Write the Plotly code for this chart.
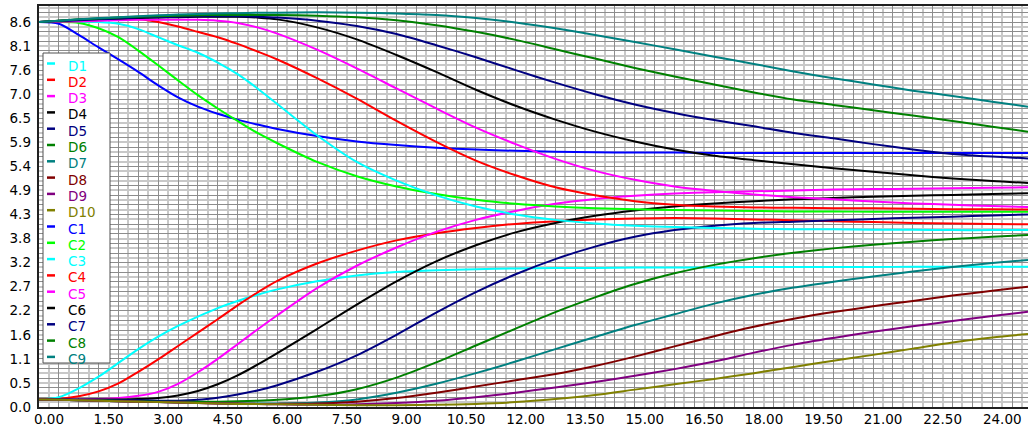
import plotly.graph_objects as go

# ---------------- data ----------------
T = [0, 0.5, 1, 1.5, 2, 2.5, 3, 3.5, 4, 4.5, 5, 5.5, 6, 7, 8, 9, 10, 11, 12, 13, 14,
     15, 16, 17, 18, 19, 20, 21, 22, 23, 24, 24.9]

D1 = [0.17, 0.22, 0.42, 0.68, 0.99, 1.30, 1.58, 1.82, 2.03, 2.22, 2.38, 2.52, 2.64, 2.82, 2.95, 3.03,
      3.07, 3.09, 3.11, 3.12, 3.12, 3.13, 3.13, 3.13, 3.14, 3.14, 3.14, 3.14, 3.15, 3.15, 3.15, 3.15]
D2 = [0.17, 0.18, 0.24, 0.35, 0.53, 0.79, 1.07, 1.37, 1.67, 1.97, 2.28, 2.57, 2.83, 3.22, 3.51, 3.74,
      3.90, 4.02, 4.11, 4.17, 4.21, 4.23, 4.24, 4.23, 4.21, 4.19, 4.17, 4.15, 4.13, 4.12, 4.11, 4.10]
D3 = [0.17, 0.17, 0.17, 0.18, 0.20, 0.25, 0.34, 0.52, 0.78, 1.08, 1.41, 1.74, 2.06, 2.67, 3.17, 3.58,
      3.93, 4.20, 4.40, 4.56, 4.67, 4.74, 4.79, 4.82, 4.84, 4.86, 4.88, 4.89, 4.90, 4.91, 4.92, 4.93]
D4 = [0.17, 0.17, 0.17, 0.17, 0.17, 0.18, 0.20, 0.26, 0.36, 0.51, 0.71, 0.95, 1.21, 1.75, 2.30, 2.82,
      3.27, 3.63, 3.92, 4.13, 4.29, 4.41, 4.50, 4.57, 4.62, 4.66, 4.69, 4.72, 4.74, 4.76, 4.78, 4.80]
D5 = [0.17, 0.17, 0.16, 0.16, 0.15, 0.15, 0.14, 0.14, 0.16, 0.21, 0.28, 0.37, 0.49, 0.79, 1.16, 1.62,
      2.12, 2.58, 2.98, 3.32, 3.60, 3.82, 3.97, 4.07, 4.13, 4.16, 4.19, 4.22, 4.25, 4.27, 4.30, 4.32]
D6 = [0.17, 0.16, 0.15, 0.15, 0.14, 0.13, 0.12, 0.12, 0.12, 0.12, 0.13, 0.14, 0.16, 0.24, 0.40, 0.66,
      1.00, 1.38, 1.76, 2.13, 2.46, 2.76, 3.00, 3.19, 3.34, 3.46, 3.56, 3.64, 3.71, 3.77, 3.82, 3.86]
D7 = [0.17, 0.16, 0.15, 0.14, 0.13, 0.12, 0.11, 0.10, 0.09, 0.09, 0.08, 0.08, 0.08, 0.10, 0.17, 0.32,
      0.52, 0.76, 1.02, 1.30, 1.57, 1.84, 2.08, 2.32, 2.52, 2.68, 2.81, 2.93, 3.04, 3.14, 3.23, 3.30]
D8 = [0.17, 0.16, 0.15, 0.14, 0.13, 0.12, 0.11, 0.10, 0.09, 0.08, 0.08, 0.07, 0.07, 0.08, 0.12, 0.20,
      0.32, 0.46, 0.60, 0.74, 0.92, 1.13, 1.36, 1.59, 1.80, 1.98, 2.13, 2.26, 2.38, 2.50, 2.61, 2.70]
D9 = [0.17, 0.16, 0.15, 0.14, 0.13, 0.12, 0.11, 0.10, 0.09, 0.08, 0.07, 0.07, 0.06, 0.05, 0.06, 0.09,
      0.14, 0.22, 0.32, 0.44, 0.56, 0.70, 0.85, 1.02, 1.22, 1.40, 1.55, 1.69, 1.81, 1.93, 2.04, 2.14]
D10 = [0.17, 0.16, 0.15, 0.14, 0.13, 0.12, 0.11, 0.10, 0.09, 0.08, 0.07, 0.07, 0.06, 0.05, 0.04, 0.04,
       0.05, 0.07, 0.11, 0.18, 0.27, 0.39, 0.51, 0.63, 0.76, 0.90, 1.04, 1.17, 1.31, 1.45, 1.56, 1.64]

C1 = [8.64, 8.60, 8.35, 8.07, 7.80, 7.52, 7.22, 6.95, 6.74, 6.58, 6.45, 6.34, 6.24, 6.08, 5.96, 5.88,
      5.82, 5.78, 5.75, 5.73, 5.72, 5.71, 5.71, 5.70, 5.70, 5.70, 5.70, 5.70, 5.70, 5.70, 5.70, 5.70]
C2 = [8.64, 8.64, 8.62, 8.50, 8.30, 8.00, 7.67, 7.33, 7.00, 6.70, 6.42, 6.15, 5.92, 5.50, 5.18, 4.95,
      4.78, 4.65, 4.56, 4.50, 4.46, 4.44, 4.42, 4.41, 4.40, 4.39, 4.39, 4.38, 4.38, 4.38, 4.38, 4.38]
C3 = [8.64, 8.65, 8.65, 8.64, 8.60, 8.48, 8.30, 8.12, 7.95, 7.73, 7.47, 7.15, 6.80, 6.10, 5.50, 5.08,
      4.75, 4.50, 4.32, 4.20, 4.12, 4.07, 4.04, 4.02, 4.00, 3.99, 3.99, 3.98, 3.98, 3.97, 3.97, 3.97]
C4 = [8.64, 8.65, 8.66, 8.68, 8.70, 8.70, 8.64, 8.54, 8.42, 8.30, 8.15, 7.98, 7.80, 7.38, 6.92, 6.42,
      5.95, 5.53, 5.20, 4.93, 4.75, 4.62, 4.54, 4.50, 4.48, 4.47, 4.46, 4.46, 4.45, 4.44, 4.44, 4.43]
C5 = [8.64, 8.65, 8.66, 8.67, 8.68, 8.69, 8.69, 8.69, 8.69, 8.67, 8.62, 8.52, 8.38, 8.02, 7.60, 7.15,
      6.70, 6.27, 5.90, 5.57, 5.30, 5.10, 4.95, 4.85, 4.77, 4.71, 4.66, 4.61, 4.57, 4.54, 4.51, 4.49]
C6 = [8.64, 8.67, 8.69, 8.71, 8.72, 8.73, 8.74, 8.75, 8.76, 8.76, 8.76, 8.74, 8.70, 8.52, 8.25, 7.90,
      7.52, 7.12, 6.76, 6.45, 6.18, 5.96, 5.78, 5.64, 5.54, 5.45, 5.36, 5.28, 5.20, 5.13, 5.07, 5.03]
C7 = [8.64, 8.66, 8.68, 8.70, 8.72, 8.74, 8.75, 8.76, 8.77, 8.77, 8.77, 8.76, 8.74, 8.67, 8.55, 8.37,
      8.12, 7.85, 7.56, 7.28, 7.02, 6.79, 6.60, 6.44, 6.30, 6.15, 6.03, 5.90, 5.78, 5.68, 5.62, 5.58]
C8 = [8.64, 8.67, 8.70, 8.72, 8.74, 8.76, 8.77, 8.78, 8.79, 8.80, 8.80, 8.80, 8.80, 8.78, 8.75, 8.68,
      8.57, 8.42, 8.24, 8.03, 7.82, 7.61, 7.42, 7.24, 7.06, 6.90, 6.78, 6.66, 6.54, 6.42, 6.29, 6.18]
C9 = [8.64, 8.67, 8.70, 8.73, 8.75, 8.77, 8.79, 8.81, 8.82, 8.83, 8.84, 8.85, 8.85, 8.86, 8.85, 8.83,
      8.80, 8.73, 8.63, 8.50, 8.35, 8.19, 8.03, 7.86, 7.70, 7.53, 7.38, 7.24, 7.10, 6.98, 6.85, 6.74]

SERIES_NAMES = ["D1", "D2", "D3", "D4", "D5", "D6", "D7", "D8", "D9", "D10",
                "C1", "C2", "C3", "C4", "C5", "C6", "C7", "C8", "C9"]
SERIES_VALUES = [D1, D2, D3, D4, D5, D6, D7, D8, D9, D10,
                 C1, C2, C3, C4, C5, C6, C7, C8, C9]
SERIES_COLORS = ["#00FFFF", "#FF0000", "#FF00FF", "#000000", "#000080", "#008000", "#008080",
                 "#800000", "#800080", "#808000",
                 "#0000FF", "#00FF00", "#00FFFF", "#FF0000", "#FF00FF", "#000000", "#000080",
                 "#008000", "#008080"]

X_TICK_LABELS = ["0.00", "1.50", "3.00", "4.50", "6.00", "7.50", "9.00", "10.50", "12.00",
                 "13.50", "15.00", "16.50", "18.00", "19.50", "21.00", "22.50", "24.00"]
X_TICK_STEP = 1.5
Y_TICK_LABELS = ["0.0", "0.5", "1.1", "1.6", "2.2", "2.7", "3.2", "3.8", "4.3", "4.9", "5.4",
                 "5.9", "6.5", "7.0", "7.6", "8.1", "8.6"]
Y_TICK_STEP = 0.54

# ---------------- layout geometry ----------------
W, H = 1028, 428
ML, MR, MT, MB = 39, 0, 6, 21
PW, PH = W - ML - MR, H - MT - MB
X_RANGE = [0, 24.9]
Y_RANGE = [0, 9.0]
FONT = "DejaVu Sans, Verdana, sans-serif"
TICK_SIZE = 13.5


def px_to_paper_x(px):
    return (px - ML) / PW


def px_to_paper_y(py):
    return (H - MB - py) / PH


fig = go.Figure()

for name, vals, col in zip(SERIES_NAMES, SERIES_VALUES, SERIES_COLORS):
    fig.add_trace(go.Scatter(
        x=T, y=vals, name=name, mode="lines",
        line=dict(color=col, width=2, shape="spline", smoothing=0.8),
        showlegend=False, hoverinfo="skip"))

# dummy trace for the labelled overlay axes
fig.add_trace(go.Scatter(x=[], y=[], xaxis="x2", yaxis="y2", showlegend=False,
                         hoverinfo="skip"))

DARK = "#8c8c8c"
LIGHT = "#c8c8c8"

fig.update_layout(
    width=W, height=H,
    margin=dict(l=ML, r=MR, t=MT, b=MB, pad=0),
    paper_bgcolor="white", plot_bgcolor="white",
    font=dict(family=FONT, size=TICK_SIZE, color="black"),
    xaxis=dict(range=X_RANGE, showticklabels=False, ticks="",
               tick0=0, dtick=0.5, showgrid=True, gridcolor=DARK, gridwidth=1,
               minor=dict(dtick=0.25, tick0=0, showgrid=True, gridcolor=LIGHT, gridwidth=1.5),
               zeroline=False, showline=True, linecolor="#202020", linewidth=2, mirror=True),
    yaxis=dict(range=Y_RANGE, showticklabels=False, ticks="",
               tick0=0, dtick=0.216, showgrid=True, gridcolor=DARK, gridwidth=1,
               minor=dict(dtick=0.108, tick0=0, showgrid=True, gridcolor=LIGHT, gridwidth=1.5),
               zeroline=False, showline=True, linecolor="#202020", linewidth=2, mirror=False),
    xaxis2=dict(overlaying="x", anchor="y2", side="bottom", range=X_RANGE,
                tickvals=[i * X_TICK_STEP for i in range(len(X_TICK_LABELS))],
                ticktext=X_TICK_LABELS, ticks="", showgrid=False, zeroline=False,
                showline=False, ticklabelshift=10, ticklabelstandoff=2,
                tickfont=dict(family=FONT, size=TICK_SIZE, color="black")),
    yaxis2=dict(overlaying="y", anchor="x2", side="left", range=Y_RANGE,
                tickvals=[i * Y_TICK_STEP for i in range(len(Y_TICK_LABELS))],
                ticktext=Y_TICK_LABELS, ticks="", showgrid=False, zeroline=False,
                showline=False, ticklabelstandoff=7,
                tickfont=dict(family=FONT, size=TICK_SIZE, color="black")),
)

# ---------------- hand-made legend (compact, like the original) ----------------
LEG_LEFT, LEG_RIGHT, LEG_TOP, LEG_BOTTOM = 43, 110, 53, 363
ROW0, ROW_STEP = 65.5, 16.3
shapes = [dict(type="rect", xref="paper", yref="paper",
               x0=px_to_paper_x(LEG_LEFT), x1=px_to_paper_x(LEG_RIGHT),
               y0=px_to_paper_y(LEG_BOTTOM), y1=px_to_paper_y(LEG_TOP),
               fillcolor="white", line=dict(color="#505050", width=1), layer="above")]
annotations = []
for i, (name, col) in enumerate(zip(SERIES_NAMES, SERIES_COLORS)):
    cy = ROW0 + i * ROW_STEP
    shapes.append(dict(type="line", xref="paper", yref="paper",
                       x0=px_to_paper_x(47), x1=px_to_paper_x(55),
                       y0=px_to_paper_y(cy - 2), y1=px_to_paper_y(cy - 2),
                       line=dict(color=col, width=2.5), layer="above"))
    annotations.append(dict(xref="paper", yref="paper", x=px_to_paper_x(66),
                            y=px_to_paper_y(cy), text=name, showarrow=False,
                            xanchor="left", yanchor="middle",
                            font=dict(family=FONT, size=13.5, color=col)))
fig.update_layout(shapes=shapes, annotations=annotations)

fig.write_html("out.html", config={"displayModeBar": False})
